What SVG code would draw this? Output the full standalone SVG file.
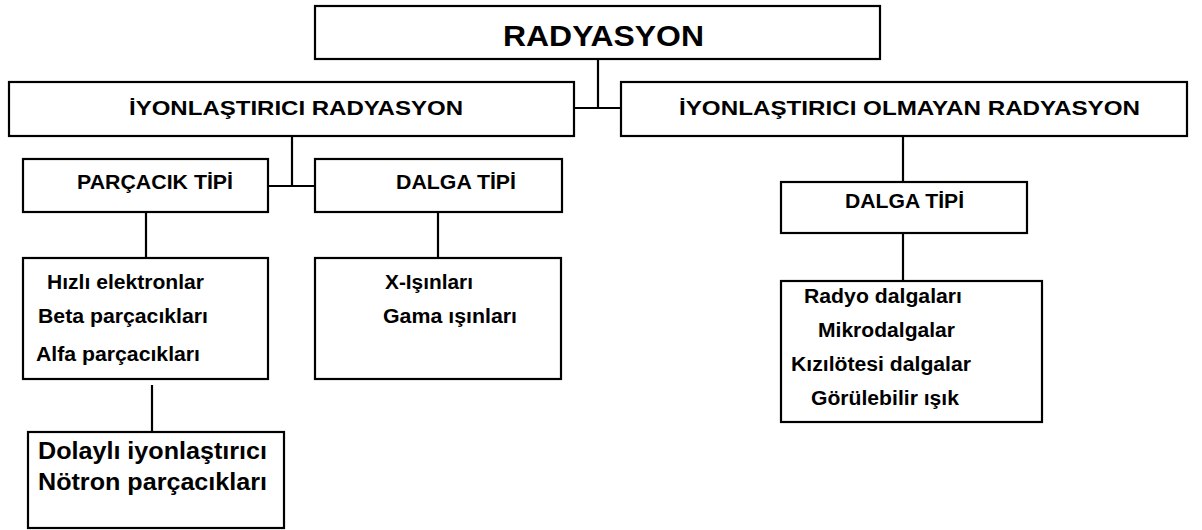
<svg xmlns="http://www.w3.org/2000/svg" width="1202" height="530" viewBox="0 0 1202 530">
<style>
rect{fill:#fff;stroke:#000;stroke-width:2.2}
text{font-family:"Liberation Sans",Arial,sans-serif;font-weight:bold;fill:#000}
.c{fill:none;stroke:#000;stroke-width:2.2}
.t21{font-size:21px}
.t20{font-size:20px}
.t24{font-size:24px}
</style>
<rect x="0" y="0" width="1202" height="530" style="stroke:none"/>
<g id="connectors">
<path class="c" d="M598 59V108M574 108H621"/>
<path class="c" d="M292 136V186M268 186H315"/>
<path class="c" d="M146 212V258"/>
<path class="c" d="M438 212V258"/>
<path class="c" d="M152 385V432"/>
<path class="c" d="M903 136V182"/>
<path class="c" d="M903 233V281"/>
</g>
<g id="root">
<rect x="315" y="6" width="565" height="53"/>
<text x="503" y="46" font-size="29" textLength="201" lengthAdjust="spacingAndGlyphs">RADYASYON</text>
</g>
<g id="ion">
<rect x="9" y="82" width="565" height="54"/>
<text class="t21" x="129" y="115" textLength="334" lengthAdjust="spacingAndGlyphs">İYONLAŞTIRICI RADYASYON</text>
</g>
<g id="nonion">
<rect x="621" y="82" width="566" height="54"/>
<text class="t21" x="679" y="115" textLength="461" lengthAdjust="spacingAndGlyphs">İYONLAŞTIRICI OLMAYAN RADYASYON</text>
</g>
<g id="particle">
<rect x="23" y="159" width="245" height="53"/>
<text class="t21" x="77" y="189" textLength="156" lengthAdjust="spacingAndGlyphs">PARÇACIK TİPİ</text>
</g>
<g id="wave1">
<rect x="315" y="159" width="247" height="53"/>
<text class="t21" x="396" y="189" textLength="120" lengthAdjust="spacingAndGlyphs">DALGA TİPİ</text>
</g>
<g id="wave2">
<rect x="781" y="182" width="246" height="51"/>
<text class="t21" x="845" y="208" textLength="119" lengthAdjust="spacingAndGlyphs">DALGA TİPİ</text>
</g>
<g id="plist">
<rect x="23" y="258" width="245" height="121"/>
<text class="t20" x="47" y="289" textLength="157" lengthAdjust="spacingAndGlyphs">Hızlı elektronlar</text>
<text class="t20" x="38" y="323" textLength="170" lengthAdjust="spacingAndGlyphs">Beta parçacıkları</text>
<text class="t20" x="36" y="361" textLength="164" lengthAdjust="spacingAndGlyphs">Alfa parçacıkları</text>
</g>
<g id="wlist">
<rect x="315" y="258" width="246" height="121"/>
<text class="t20" x="385" y="289" textLength="88" lengthAdjust="spacingAndGlyphs">X-Işınları</text>
<text class="t20" x="383" y="323" textLength="134" lengthAdjust="spacingAndGlyphs">Gama ışınları</text>
</g>
<g id="neutron">
<rect x="28" y="432" width="256" height="96"/>
<text class="t24" x="38" y="459" textLength="229" lengthAdjust="spacingAndGlyphs">Dolaylı iyonlaştırıcı</text>
<text class="t24" x="38" y="490" textLength="229" lengthAdjust="spacingAndGlyphs">Nötron parçacıkları</text>
</g>
<g id="nlist">
<rect x="781" y="281" width="261" height="141"/>
<text class="t20" x="804" y="303" textLength="158" lengthAdjust="spacingAndGlyphs">Radyo dalgaları</text>
<text class="t20" x="818" y="337" textLength="137" lengthAdjust="spacingAndGlyphs">Mikrodalgalar</text>
<text class="t20" x="791" y="371" textLength="180" lengthAdjust="spacingAndGlyphs">Kızılötesi dalgalar</text>
<text class="t20" x="811" y="405" textLength="148" lengthAdjust="spacingAndGlyphs">Görülebilir ışık</text>
</g>
</svg>
